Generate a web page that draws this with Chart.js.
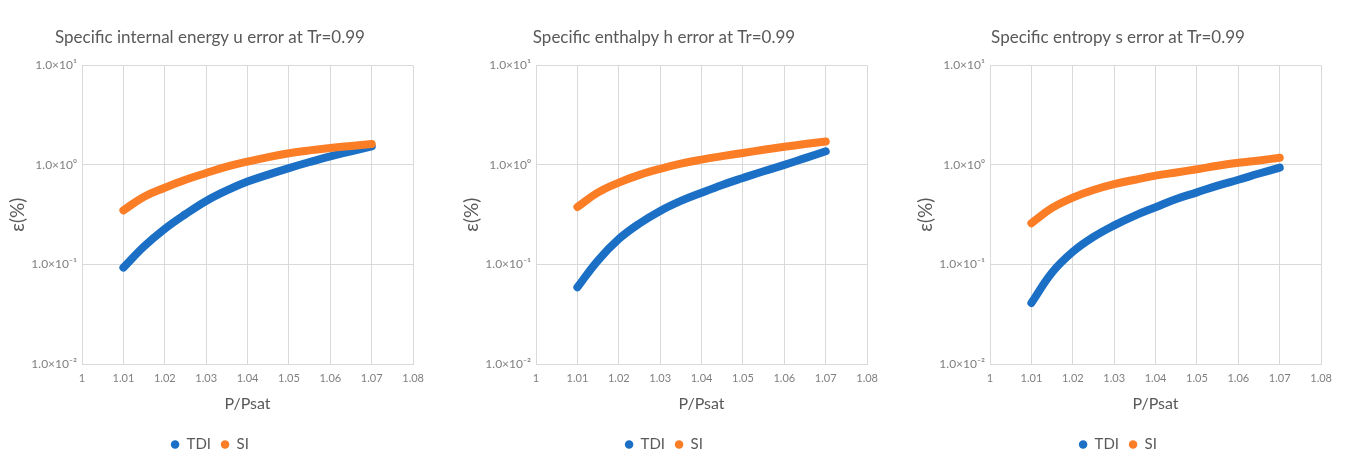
<!DOCTYPE html>
<html>
<head>
<meta charset="utf-8">
<script src="https://cdn.jsdelivr.net/npm/chart.js@4"></script>
<style>
  body { margin: 0; background: #fff; width: 1346px; height: 456px; overflow: hidden; position: relative; }
  .wrap { position: absolute; top: 0; width: 444px; height: 456px; }
</style>
</head>
<body>
<div class="wrap" style="left:-12px"><canvas id="c1"></canvas></div>
<div class="wrap" style="left:442px"><canvas id="c2"></canvas></div>
<div class="wrap" style="left:896px"><canvas id="c3"></canvas></div>
<script>
// P/Psat sample positions
var pRatio = [1.01, 1.015, 1.02, 1.025, 1.03, 1.035, 1.04, 1.045, 1.05, 1.055, 1.06, 1.065, 1.07];

// errors in %
var uTDI = [0.093, 0.152, 0.228, 0.32, 0.435, 0.555, 0.68, 0.80, 0.93, 1.07, 1.22, 1.37, 1.54];
var uSI  = [0.35, 0.48, 0.59, 0.71, 0.83, 0.96, 1.08, 1.20, 1.31, 1.40, 1.48, 1.55, 1.62];
var hTDI = [0.059, 0.11, 0.18, 0.258, 0.345, 0.435, 0.526, 0.63, 0.74, 0.865, 1.0, 1.17, 1.37];
var hSI  = [0.378, 0.53, 0.665, 0.795, 0.915, 1.03, 1.13, 1.225, 1.32, 1.42, 1.52, 1.62, 1.72];
var sTDI = [0.041, 0.083, 0.134, 0.189, 0.247, 0.31, 0.376, 0.455, 0.53, 0.62, 0.71, 0.82, 0.94];
var sSI  = [0.26, 0.37, 0.47, 0.56, 0.64, 0.71, 0.78, 0.84, 0.905, 0.98, 1.05, 1.11, 1.18];

var titles = [
  'Specific internal energy u error at Tr=0.99',
  'Specific enthalpy h error at Tr=0.99',
  'Specific entropy s error at Tr=0.99'
];

var xTicks = [1, 1.01, 1.02, 1.03, 1.04, 1.05, 1.06, 1.07, 1.08];
var xTickLabels = ['1', '1.01', '1.02', '1.03', '1.04', '1.05', '1.06', '1.07', '1.08'];
var yTicks = [0.01, 0.1, 1, 10];
var yTickLabels = ['1.0\u00d710\u207b\u00b2', '1.0\u00d710\u207b\u00b9', '1.0\u00d710\u2070', '1.0\u00d710\u00b9'];

var blue = '#1b70c6';
var orange = '#fb7d26';
var font = 'Lato, "Open Sans", sans-serif';

function pts(ys) {
  return pRatio.map(function (x, i) { return { x: x, y: ys[i] }; });
}

function series(label, ys, color, order) {
  return {
    label: label,
    data: pts(ys),
    borderColor: color,
    backgroundColor: color,
    showLine: true,
    borderWidth: 8,
    borderCapStyle: 'round',
    pointRadius: 0,
    tension: 0.4,
    order: order
  };
}

function makeChart(id, title, tdi, si) {
  var ctx = document.getElementById(id).getContext('2d');
  return new Chart(ctx, {
    type: 'scatter',
    data: {
      datasets: [series('TDI', tdi, blue, 1), series('SI', si, orange, 0)]
    },
    options: {
      responsive: true,
      maintainAspectRatio: false,
      animation: false,
      layout: { padding: { left: 0, right: 0, top: 0, bottom: -6 } },
      plugins: {
        tooltip: { enabled: false },
        title: {
          display: true,
          text: title,
          color: '#595959',
          font: { family: font, size: 17, weight: 'normal' },
          padding: { top: 27, bottom: 18 }
        },
        legend: {
          position: 'bottom',
          labels: {
            usePointStyle: true,
            pointStyle: 'circle',
            boxWidth: 8,
            boxHeight: 6,
            color: '#595959',
            font: { family: font, size: 15 },
            padding: 10,
            sort: function (a, b) { return a.datasetIndex - b.datasetIndex; },
            generateLabels: function (chart) {
              var items = Chart.defaults.plugins.legend.labels.generateLabels(chart);
              items.forEach(function (it) { it.lineWidth = 0; });
              return items;
            }
          }
        }
      },
      scales: {
        x: {
          type: 'linear',
          min: 1,
          max: 1.08,
          afterBuildTicks: function (axis) {
            axis.ticks = xTicks.map(function (v) { return { value: v }; });
          },
          afterFit: function (axis) { axis.height = 63; },
          ticks: {
            color: '#7f7f7f',
            font: { family: font, size: 11 },
            maxRotation: 0,
            padding: 8,
            callback: function (v) {
              var i = xTicks.indexOf(v);
              return i >= 0 ? xTickLabels[i] : '';
            }
          },
          grid: { color: '#d9d9d9', drawTicks: false },
          border: { color: '#d9d9d9' },
          title: {
            display: true,
            text: 'P/Psat',
            color: '#595959',
            font: { family: font, size: 16 },
            padding: { top: 0, bottom: 14 }
          }
        },
        y: {
          type: 'logarithmic',
          min: 0.01,
          max: 10,
          afterBuildTicks: function (axis) {
            axis.ticks = yTicks.map(function (v) { return { value: v }; });
          },
          afterFit: function (axis) { axis.width = 94; },
          ticks: {
            color: '#7f7f7f',
            font: { family: font, size: 12 },
            padding: 5,
            callback: function (v) {
              var i = yTicks.indexOf(v);
              return i >= 0 ? yTickLabels[i] : '';
            }
          },
          grid: { color: '#d9d9d9', drawTicks: false },
          border: { color: '#d9d9d9' },
          title: {
            display: true,
            text: '\u03b5(%)',
            color: '#595959',
            font: { family: font, size: 19 },
            padding: { top: 18, bottom: 0 }
          }
        }
      }
    }
  });
}

makeChart('c1', titles[0], uTDI, uSI);
makeChart('c2', titles[1], hTDI, hSI);
makeChart('c3', titles[2], sTDI, sSI);
</script>
</body>
</html>
